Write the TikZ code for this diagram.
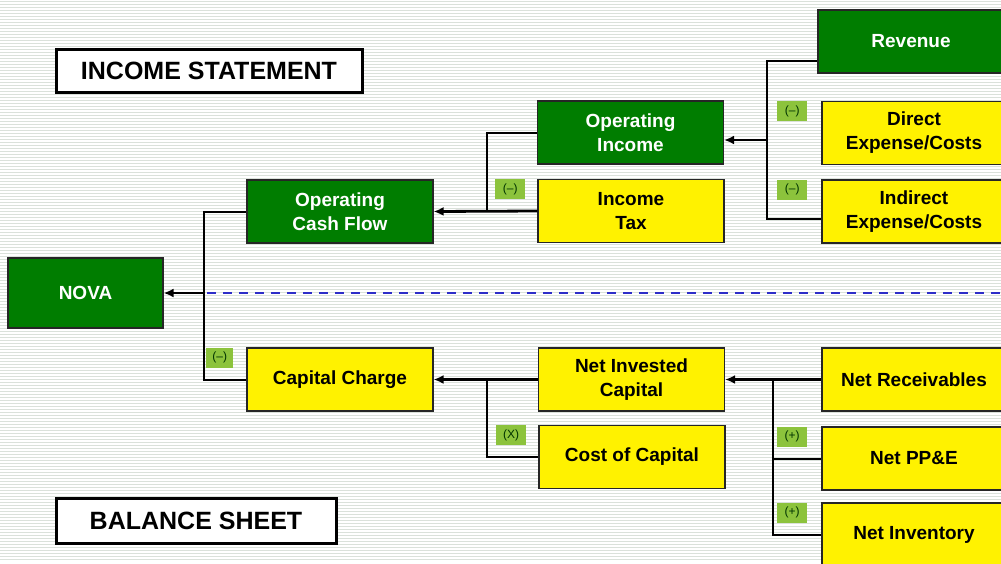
\documentclass[tikz,border=0pt]{standalone}
\usepackage{fontspec}
\setmainfont{Liberation Sans}
\usetikzlibrary{calc,arrows.meta}
\definecolor{novagreen}{RGB}{0,125,0}
\definecolor{signgreen}{RGB}{140,195,60}
\definecolor{stripe}{RGB}{218,225,218}
\definecolor{dashblue}{RGB}{45,45,200}
\tikzset{
  box/.style={draw=black!85,line width=1.2pt,minimum width=186pt,minimum height=63pt,align=center,inner sep=0pt,font=\fontsize{19}{24}\selectfont\bfseries},
  gbox/.style={box,fill=novagreen,text=white},
  ybox/.style={box,fill=yellow,text=black},
  heading/.style={draw=black,line width=3pt,fill=white,inner sep=0pt,font=\fontsize{25}{30}\selectfont\bfseries},
  sign/.style={fill=signgreen,minimum width=30pt,minimum height=20pt,inner sep=0pt,font=\fontsize{12}{12}\selectfont,text=black!80!green},
  link/.style={line width=2pt,black},
  feed/.style={line width=2.8pt,black,-{Latex[length=10pt,width=9pt]}},
}
\begin{document}
\begin{tikzpicture}[x=1pt,y=-1pt]
\useasboundingbox (0,0) rectangle (1001,563);
\fill[white] (0,0) rectangle (1001,563);
\foreach \y in {1.5,4.5,...,562} \draw[stripe,line width=0.9pt] (0,\y) -- (1001,\y);
\node[heading,minimum width=306pt,minimum height=43pt] at (209,70.5) (inc) {INCOME STATEMENT};
\node[heading,minimum width=280pt,minimum height=45pt] at (196,520.5) (bal) {BALANCE SHEET};
\node[gbox,minimum width=155pt,minimum height=70pt] at (85.5,293) (nova) {NOVA};
\node[gbox] at (340,211.5) (ocf) {Operating\\Cash Flow};
\node[ybox] at (340,379.5) (cc) {Capital Charge};
\node[gbox] at (630.5,132.5) (oi) {Operating\\Income};
\node[ybox] at (631,211) (it) {Income\\Tax};
\node[ybox] at (631.5,379.5) (nic) {Net Invested\\Capital};
\node[ybox] at (632,457) (coc) {Cost of Capital};
\node[gbox] at (911,41.5) (rev) {Revenue};
\node[ybox,minimum width=184pt] at (914,133) (dir) {Direct\\Expense/Costs};
\node[ybox,minimum width=184pt] at (914,211.5) (ind) {Indirect\\Expense/Costs};
\node[ybox,minimum width=184pt] at (914,379.5) (nrec) {Net Receivables};
\node[ybox,minimum width=184pt] at (914,458.5) (nppe) {Net PP\&E};
\node[ybox,minimum width=184pt,minimum height=64pt] at (914,535) (ninv) {Net Inventory};
\node[sign,anchor=north east] at ($(dir.north west)+(-14,0)$) (sdir) {(--)};
\node[sign,anchor=north east] at ($(ind.north west)+(-14,0)$) (sind) {(--)};
\node[sign,anchor=north east] at ($(it.north west)+(-12,0)$) (sit) {(--)};
\node[sign,anchor=north east,minimum width=27pt] at ($(cc.north west)+(-13,0)$) (scc) {(--)};
\node[sign,anchor=north east] at ($(coc.north west)+(-12,0)$) (scoc) {(X)};
\node[sign,anchor=north east] at ($(nppe.north west)+(-14,0)$) (snppe) {(+)};
\node[sign,anchor=north east] at ($(ninv.north west)+(-14,0)$) (sninv) {(+)};
\coordinate (jn) at (204,293);
\coordinate (jo) at (487,211);
\coordinate (jrt) at (767,61);
\coordinate (jrb) at (767,219);
\coordinate (jr) at (767,140);
\coordinate (jc) at (487,379.5);
\coordinate (jb) at (773,379.5);
\draw[dashblue,line width=2.6pt,dash pattern=on 9pt off 7pt] ($(jn)+(3,0)$) -- (nrec.east |- jn);
\draw[link] (ocf.west) -| (jn |- cc.west) -- (cc.west);
\draw[feed] (jn) -- (nova.east);
\draw[link] (oi.west) -| (jo);
\draw[feed] (it.west) -- (ocf.east);
\draw[link] (rev.west |- jrt) -- (jrt) -- (jrb) -- (ind.west |- jrb);
\draw[feed] (jr) -- (oi.east |- jr);
\draw[link] (jc) |- (coc.west);
\draw[feed] (nic.west) -- (cc.east);
\draw[link] (jb) |- (nppe.west);
\draw[link] (jb) |- (ninv.west);
\draw[feed] (nrec.west) -- (nic.east);
\end{tikzpicture}
\end{document}
